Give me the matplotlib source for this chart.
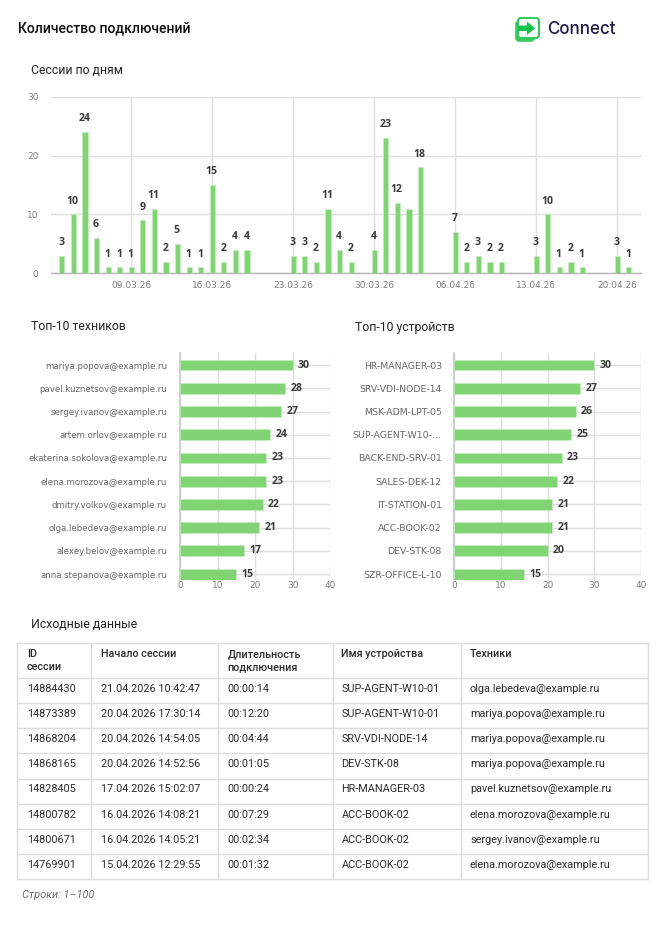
import matplotlib
matplotlib.use("Agg")
import matplotlib.pyplot as plt
import pandas as pd
from matplotlib.patches import FancyBboxPatch, Polygon

W, H = 666, 938
GREEN = "#80d473"
GRID = "#dedede"
AXIS = "#c4c4c4"
TICK = "#7d7d7d"

plt.rcParams["font.family"] = ["Roboto", "DejaVu Sans"]

# sessions per day (days without sessions are simply absent)
day_labels = [
    "03.03.26", "04.03.26", "05.03.26", "06.03.26", "07.03.26", "08.03.26", "09.03.26",
    "10.03.26", "11.03.26", "12.03.26", "13.03.26", "14.03.26", "15.03.26", "16.03.26",
    "17.03.26", "18.03.26", "19.03.26", "23.03.26", "24.03.26", "25.03.26", "26.03.26",
    "27.03.26", "28.03.26", "30.03.26", "31.03.26", "01.04.26", "02.04.26", "03.04.26",
    "06.04.26", "07.04.26", "08.04.26", "09.04.26", "10.04.26", "13.04.26", "14.04.26",
    "15.04.26", "16.04.26", "17.04.26", "20.04.26", "21.04.26",
]
day_counts = [
    3, 10, 24, 6, 1, 1, 1,
    9, 11, 2, 5, 1, 1, 15,
    2, 4, 4, 3, 3, 2, 11,
    4, 2, 4, 23, 12, 11, 18,
    7, 2, 3, 2, 2, 3, 10,
    1, 2, 1, 3, 1,
]
# the source chart drops this one label because it collides with its neighbours
unlabelled_days = ["02.04.26"]
date_ticks = ["09.03.26", "16.03.26", "23.03.26", "30.03.26", "06.04.26", "13.04.26", "20.04.26"]

tech_names = [
    "mariya.popova@example.ru", "pavel.kuznetsov@example.ru", "sergey.ivanov@example.ru",
    "artem.orlov@example.ru", "ekaterina.sokolova@example.ru", "elena.morozova@example.ru",
    "dmitry.volkov@example.ru", "olga.lebedeva@example.ru", "alexey.belov@example.ru",
    "anna.stepanova@example.ru",
]
tech_counts = [30, 28, 27, 24, 23, 23, 22, 21, 17, 15]

device_names = [
    "HR-MANAGER-03", "SRV-VDI-NODE-14", "MSK-ADM-LPT-05", "SUP-AGENT-W10-...",
    "BACK-END-SRV-01", "SALES-DEK-12", "IT-STATION-01", "ACC-BOOK-02", "DEV-STK-08",
    "SZR-OFFICE-L-10",
]
device_counts = [30, 27, 26, 25, 23, 22, 21, 21, 20, 15]

table_header = [["ID", "сессии"], ["Начало сессии"], ["Длительность", "подключения"],
                ["Имя устройства"], ["Техники"]]
session_ids = ["14884430", "14873389", "14868204", "14868165",
               "14828405", "14800782", "14800671", "14769901"]
session_starts = ["21.04.2026 10:42:47", "20.04.2026 17:30:14", "20.04.2026 14:54:05",
                  "20.04.2026 14:52:56", "17.04.2026 15:02:07", "16.04.2026 14:08:21",
                  "16.04.2026 14:05:21", "15.04.2026 12:29:55"]
session_lengths = ["00:00:14", "00:12:20", "00:04:44", "00:01:05",
                   "00:00:24", "00:07:29", "00:02:34", "00:01:32"]
session_devices = ["SUP-AGENT-W10-01", "SUP-AGENT-W10-01", "SRV-VDI-NODE-14", "DEV-STK-08",
                   "HR-MANAGER-03", "ACC-BOOK-02", "ACC-BOOK-02", "ACC-BOOK-02"]
session_techs = ["olga.lebedeva@example.ru", "mariya.popova@example.ru",
                 "mariya.popova@example.ru", "mariya.popova@example.ru",
                 "pavel.kuznetsov@example.ru", "elena.morozova@example.ru",
                 "sergey.ivanov@example.ru", "elena.morozova@example.ru"]


def px(size):
    # font size given in pixels of the 100 dpi output
    return size * 0.72


def axes_px(fig, left, top, right, bottom):
    return fig.add_axes([left / W, 1 - bottom / H, (right - left) / W, (bottom - top) / H])


def draw_daily(ax):
    dates = pd.to_datetime(day_labels, format="%d.%m.%y")
    ticks = pd.to_datetime(date_ticks, format="%d.%m.%y")
    ax.bar(dates, day_counts, width=0.45, color=GREEN, edgecolor="#c9edc3", linewidth=0.4, zorder=3)
    for label, d, v in zip(day_labels, dates, day_counts):
        if label in unlabelled_days:
            continue
        ax.annotate(str(v), (d, v), xytext=(-0.5, 9.5), textcoords="offset points",
                    ha="center", va="center", fontsize=px(10.5), fontweight="bold",
                    color="#3a3a3a", family=["Open Sans"])
    ax.set_xlim(ticks[0] - pd.Timedelta(days=6.94), ticks[-1] + pd.Timedelta(days=2.05))
    ax.set_ylim(0, 30)
    ax.set_yticks([0, 10, 20, 30])
    ax.set_xticks(ticks)
    ax.set_xticklabels(date_ticks)
    ax.grid(True, color=GRID, linewidth=1.0, zorder=0)
    ax.tick_params(length=0, labelcolor=TICK, labelsize=px(9))
    ax.tick_params(axis="x", pad=5.5)
    ax.tick_params(axis="y", pad=9)
    for lbl in ax.get_xticklabels() + ax.get_yticklabels():
        lbl.set_family(["DejaVu Sans"])
    for name in ["top", "left", "right"]:
        ax.spines[name].set_visible(False)
    ax.spines["bottom"].set_color("#b5b5b5")
    ax.spines["bottom"].set_linewidth(1.0)
    ax.set_facecolor("none")


def draw_top10(ax, names, counts, label_pad, label_size):
    ypos = list(range(len(names)))
    ax.barh(ypos, counts, height=0.47, color=GREEN, edgecolor="#c9edc3", linewidth=0.4, zorder=3)
    for y, v in zip(ypos, counts):
        ax.annotate(str(v), (v, y), xytext=(3.8, 0), textcoords="offset points", ha="left", va="center",
                    fontsize=px(10.5), fontweight="bold", color="#3a3a3a", family=["Open Sans"], zorder=4)
    ax.set_xlim(0, 40)
    ax.set_ylim(9.25, -0.5)
    ax.set_xticks([0, 10, 20, 30, 40])
    ax.set_yticks(ypos)
    ax.set_yticklabels(names)
    ax.grid(True, color=GRID, linewidth=1.0, zorder=0)
    ax.tick_params(length=0, labelcolor="#666666", labelsize=px(9))
    ax.tick_params(axis="y", pad=label_pad, labelsize=px(label_size))
    ax.tick_params(axis="x", pad=0.5, labelcolor=TICK)
    for lbl in ax.get_xticklabels() + ax.get_yticklabels():
        lbl.set_family(["DejaVu Sans"])
    for name in ["top", "bottom", "right"]:
        ax.spines[name].set_visible(False)
    ax.spines["left"].set_color(AXIS)
    ax.spines["left"].set_linewidth(1.1)
    ax.set_facecolor("none")


def draw_logo(page):
    back = FancyBboxPatch((516, 21), 18, 20, boxstyle="round,pad=0,rounding_size=3",
                          fc="#35c95f", ec="#35c95f", lw=1.2)
    front = FancyBboxPatch((518, 18), 21, 20, boxstyle="round,pad=0,rounding_size=3",
                           fc="white", ec="#35c95f", lw=1.5)
    page.add_patch(back)
    page.add_patch(front)
    page.add_patch(Polygon([(518, 25.5), (527, 25.5), (527, 21.5), (535, 28.3),
                            (527, 35), (527, 31), (518, 31)], fc="#12c24a", ec="none"))
    page.text(547.5, 29.5, "Connect", fontsize=px(17), color="#1b1b46", family=["Inter"],
              fontweight="medium", ha="left", va="center")


def draw_table(page):
    col_edges = [17, 91.3, 218.3, 332.7, 461, 647.7]
    col_text = [27, 100.7, 227.3, 341.3, 470]
    row_lines = [643.3, 678.3, 703.3, 728.3, 753.3, 779, 804, 829.3, 854.3, 879.3]
    row_mid = [689, 714, 739, 764, 789, 814.5, 840, 865]
    line = "#dcdcdc"
    for y in row_lines:
        page.plot([col_edges[0], col_edges[-1]], [y, y], color=line, lw=1.0)
    for x in col_edges:
        page.plot([x, x], [row_lines[0], row_lines[-1]], color=line, lw=1.0)
    for x, lines in zip(col_text, table_header):
        for i, t in enumerate(lines):
            page.text(x, 654.3 + i * 13, t, fontsize=px(10.8), color="#2a2a2a", fontweight="medium",
                      ha="left", va="center")
    columns = [session_ids, session_starts, session_lengths, session_devices, session_techs]
    for x, col in zip(col_text, columns):
        for y, t in zip(row_mid, col):
            page.text(x, y, t, fontsize=px(10.9), color="#2b2b2b", ha="left", va="center")


fig = plt.figure(figsize=(W / 100, H / 100), dpi=100, facecolor="white")

# full-page layer measured in pixels, for headings, logo and table
page = fig.add_axes([0, 0, 1, 1])
page.set_xlim(0, W)
page.set_ylim(H, 0)
page.axis("off")

page.text(18, 28, "Количество подключений", fontsize=px(14), fontweight="medium", color="#111111",
          ha="left", va="center")
for x, y, t in [(31, 70, "Сессии по дням"), (31, 327, "Топ-10 техников"),
                (355, 327, "Топ-10 устройств"), (31, 624, "Исходные данные")]:
    page.text(x, y, t, fontsize=px(12.3), color="#222222", ha="left", va="center")

draw_logo(page)
draw_table(page)
page.text(22, 895, "Строки: 1–100", fontsize=px(11), style="italic", color="#6f6f6f", ha="left", va="center")

draw_daily(axes_px(fig, 51, 96.7, 641, 273.3))
draw_top10(axes_px(fig, 180.3, 353.4, 330, 580), tech_names, tech_counts, 9.5, 8.7)
draw_top10(axes_px(fig, 454.3, 353.4, 641, 580), device_names, device_counts, 9, 9.4)

fig.savefig("out.png", dpi=100)
